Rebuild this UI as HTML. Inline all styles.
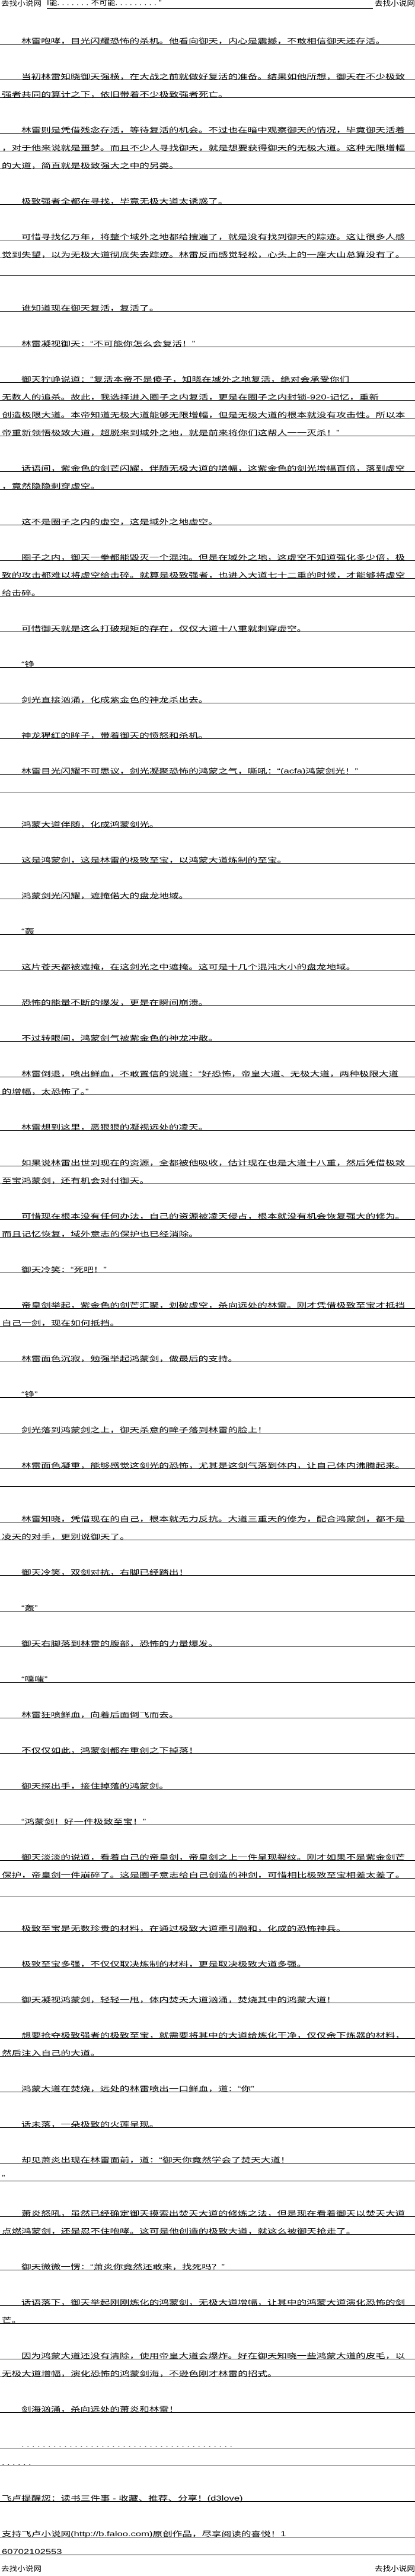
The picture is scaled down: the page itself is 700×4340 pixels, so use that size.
<!DOCTYPE html>
<html><head><meta charset="utf-8">
<style>
html,body{margin:0;padding:0;background:#fff;}
body{width:700px;height:4340px;position:relative;overflow:hidden;font-family:"Liberation Sans","Noto Sans CJK SC",sans-serif;color:#000;}
.l{position:absolute;left:0;width:700px;height:29px;border-bottom:1px solid #000;}
.l span{position:absolute;bottom:-2px;white-space:nowrap;font-size:16.6px;line-height:16.6px;transform:scaleY(0.7);transform-origin:left bottom;}
.i{left:36px;}
.c{left:3px;}
.h{position:absolute;white-space:nowrap;font-size:13.6px;line-height:14px;transform:scaleY(0.85);transform-origin:left top;}
.d{letter-spacing:4.4px;}
</style></head><body>
<div class="h" style="left:2px;top:0">去找小说网</div>
<div style="position:absolute;left:79px;top:0;width:550px;height:14px;border-bottom:1px solid #000;"><span class="h" style="left:0;top:-1px">I能<span class="d">.......</span>不可能<span class="d">.........</span>”</span></div>
<div class="h" style="left:632px;top:0">去找小说网</div>

<div class="l" style="top:45px"><span class="i">林雷咆哮，目光闪耀恐怖的杀机。他看向御天，内心是震撼，不敢相信御天还存活。</span></div>
<div class="l" style="top:105px"><span class="i">当初林雷知晓御天强横，在大战之前就做好复活的准备。结果如他所想，御天在不少极致</span></div>
<div class="l" style="top:135px"><span class="c">强者共同的算计之下，依旧带着不少极致强者死亡。</span></div>
<div class="l" style="top:195px"><span class="i">林雷则是凭借残念存活，等待复活的机会。不过也在暗中观察御天的情况，毕竟御天活着</span></div>
<div class="l" style="top:225px"><span class="c">，对于他来说就是噩梦。而且不少人寻找御天，就是想要获得御天的无极大道。这种无限增幅</span></div>
<div class="l" style="top:255px"><span class="c">的大道，简直就是极致强大之中的另类。</span></div>
<div class="l" style="top:315px"><span class="i">极致强者全都在寻找，毕竟无极大道太诱惑了。</span></div>
<div class="l" style="top:375px"><span class="i">可惜寻找亿万年，将整个域外之地都给搜遍了，就是没有找到御天的踪迹。这让很多人感</span></div>
<div class="l" style="top:405px"><span class="c">觉到失望，以为无极大道彻底失去踪迹。林雷反而感觉轻松，心头上的一座大山总算没有了。</span></div>
<div class="l" style="top:435px"></div>
<div class="l" style="top:495px"><span class="i">谁知道现在御天复活，复活了。</span></div>
<div class="l" style="top:555px"><span class="i">林雷凝视御天：“不可能<span class="d">........</span>你怎么会复活！”</span></div>
<div class="l" style="top:615px"><span class="i">御天狞峥说道：“复活<span class="d">.....</span>本帝不是傻子，知晓在域外之地复活，绝对会承受你们</span></div>
<div class="l" style="top:645px"><span class="c">无数人的追杀。故此，我选择进入圈子之内复活，更是在圈子之内封锁-920-记忆，重新</span></div>
<div class="l" style="top:675px"><span class="c">创造极限大道。本帝知道无极大道能够无限增幅，但是无极大道的根本就没有攻击性。所以本</span></div>
<div class="l" style="top:705px"><span class="c">帝重新领悟极致大道，超脱来到域外之地，就是前来将你们这帮人一一灭杀！”</span></div>
<div class="l" style="top:765px"><span class="i">话语间，紫金色的剑芒闪耀，伴随无极大道的增幅，这紫金色的剑光增幅百倍，落到虚空</span></div>
<div class="l" style="top:795px"><span class="c">，竟然隐隐刺穿虚空。</span></div>
<div class="l" style="top:855px"><span class="i">这不是圈子之内的虚空，这是域外之地虚空。</span></div>
<div class="l" style="top:915px"><span class="i">圈子之内，御天一拳都能毁灭一个混沌。但是在域外之地，这虚空不知道强化多少倍，极</span></div>
<div class="l" style="top:945px"><span class="c">致的攻击都难以将虚空给击碎。就算是极致强者，也进入大道七十二重的时候，才能够将虚空</span></div>
<div class="l" style="top:975px"><span class="c">给击碎。</span></div>
<div class="l" style="top:1035px"><span class="i">可惜御天就是这么打破规矩的存在，仅仅大道十八重就刺穿虚空。</span></div>
<div class="l" style="top:1095px"><span class="i">“铮<span class="d">...................</span></span></div>
<div class="l" style="top:1155px"><span class="i">剑光直接汹涌，化成紫金色的神龙杀出去。</span></div>
<div class="l" style="top:1215px"><span class="i">神龙猩红的眸子，带着御天的愤怒和杀机。</span></div>
<div class="l" style="top:1275px"><span class="i">林雷目光闪耀不可思议，剑光凝聚恐怖的鸿蒙之气，嘶吼：“(acfa)鸿蒙剑光！”</span></div>
<div class="l" style="top:1305px"></div>
<div class="l" style="top:1365px"><span class="i">鸿蒙大道伴随，化成鸿蒙剑光。</span></div>
<div class="l" style="top:1425px"><span class="i">这是鸿蒙剑，这是林雷的极致至宝，以鸿蒙大道炼制的至宝。</span></div>
<div class="l" style="top:1485px"><span class="i">鸿蒙剑光闪耀，遮掩偌大的盘龙地域。</span></div>
<div class="l" style="top:1545px"><span class="i">“轰<span class="d">..................</span></span></div>
<div class="l" style="top:1605px"><span class="i">这片苍天都被遮掩，在这剑光之中遮掩。这可是十几个混沌大小的盘龙地域。</span></div>
<div class="l" style="top:1665px"><span class="i">恐怖的能量不断的爆发，更是在瞬间崩溃。</span></div>
<div class="l" style="top:1725px"><span class="i">不过转眼间，鸿蒙剑气被紫金色的神龙冲散。</span></div>
<div class="l" style="top:1785px"><span class="i">林雷倒退，喷出鲜血，不敢置信的说道：“好恐怖，帝皇大道、无极大道，两种极限大道</span></div>
<div class="l" style="top:1815px"><span class="c">的增幅，太恐怖了。”</span></div>
<div class="l" style="top:1875px"><span class="i">林雷想到这里，恶狠狠的凝视远处的凌天。</span></div>
<div class="l" style="top:1935px"><span class="i">如果说林雷出世到现在的资源，全都被他吸收，估计现在也是大道十八重，然后凭借极致</span></div>
<div class="l" style="top:1965px"><span class="c">至宝鸿蒙剑，还有机会对付御天。</span></div>
<div class="l" style="top:2025px"><span class="i">可惜现在根本没有任何办法，自己的资源被凌天侵占，根本就没有机会恢复强大的修为。</span></div>
<div class="l" style="top:2055px"><span class="c">而且记忆恢复，域外意志的保护也已经消除。</span></div>
<div class="l" style="top:2115px"><span class="i">御天冷笑：“死吧！”</span></div>
<div class="l" style="top:2175px"><span class="i">帝皇剑举起，紫金色的剑芒汇聚，划破虚空，杀向远处的林雷。刚才凭借极致至宝才抵挡</span></div>
<div class="l" style="top:2205px"><span class="c">自己一剑，现在如何抵挡。</span></div>
<div class="l" style="top:2265px"><span class="i">林雷面色沉寂，勉强举起鸿蒙剑，做最后的支持。</span></div>
<div class="l" style="top:2325px"><span class="i">“铮<span class="d">.............</span>”</span></div>
<div class="l" style="top:2385px"><span class="i">剑光落到鸿蒙剑之上，御天杀意的眸子落到林雷的脸上！</span></div>
<div class="l" style="top:2445px"><span class="i">林雷面色凝重，能够感觉这剑光的恐怖，尤其是这剑气落到体内，让自己体内沸腾起来。</span></div>
<div class="l" style="top:2475px"></div>
<div class="l" style="top:2535px"><span class="i">林雷知晓，凭借现在的自己，根本就无力反抗。大道三重天的修为，配合鸿蒙剑，都不是</span></div>
<div class="l" style="top:2565px"><span class="c">凌天的对手，更别说御天了。</span></div>
<div class="l" style="top:2625px"><span class="i">御天冷笑，双剑对抗，右脚已经踏出！</span></div>
<div class="l" style="top:2685px"><span class="i">“轰<span class="d">..............</span>”</span></div>
<div class="l" style="top:2745px"><span class="i">御天右脚落到林雷的腹部，恐怖的力量爆发。</span></div>
<div class="l" style="top:2805px"><span class="i">“噗嗤<span class="d">............</span>”</span></div>
<div class="l" style="top:2865px"><span class="i">林雷狂喷鲜血，向着后面倒飞而去。</span></div>
<div class="l" style="top:2925px"><span class="i">不仅仅如此，鸿蒙剑都在重创之下掉落！</span></div>
<div class="l" style="top:2985px"><span class="i">御天探出手，接住掉落的鸿蒙剑。</span></div>
<div class="l" style="top:3045px"><span class="i">“鸿蒙剑！好一件极致至宝！”</span></div>
<div class="l" style="top:3105px"><span class="i">御天淡淡的说道，看着自己的帝皇剑，帝皇剑之上一件呈现裂纹。刚才如果不是紫金剑芒</span></div>
<div class="l" style="top:3135px"><span class="c">保护，帝皇剑一件崩碎了。这是圈子意志给自己创造的神剑，可惜相比极致至宝相差太差了。</span></div>
<div class="l" style="top:3165px"></div>
<div class="l" style="top:3225px"><span class="i">极致至宝是无数珍贵的材料，在通过极致大道牵引融和，化成的恐怖神兵。</span></div>
<div class="l" style="top:3285px"><span class="i">极致至宝多强，不仅仅取决炼制的材料，更是取决极致大道多强。</span></div>
<div class="l" style="top:3345px"><span class="i">御天凝视鸿蒙剑，轻轻一甩，体内焚天大道汹涌，焚烧其中的鸿蒙大道！</span></div>
<div class="l" style="top:3405px"><span class="i">想要抢夺极致强者的极致至宝，就需要将其中的大道给炼化干净，仅仅余下炼器的材料，</span></div>
<div class="l" style="top:3435px"><span class="c">然后注入自己的大道。</span></div>
<div class="l" style="top:3495px"><span class="i">鸿蒙大道在焚烧，远处的林雷喷出一口鲜血，道：“你<span class="d">..........</span>”</span></div>
<div class="l" style="top:3555px"><span class="i">话未落，一朵极致的火莲呈现。</span></div>
<div class="l" style="top:3615px"><span class="i">却见萧炎出现在林雷面前，道：“御天<span class="d">..........</span>你竟然学会了焚天大道！</span></div>
<div class="l" style="top:3645px"><span class="c">”</span></div>
<div class="l" style="top:3705px"><span class="i">萧炎怒吼，虽然已经确定御天摸索出焚天大道的修炼之法，但是现在看着御天以焚天大道</span></div>
<div class="l" style="top:3735px"><span class="c">点燃鸿蒙剑，还是忍不住咆哮。这可是他创造的极致大道，就这么被御天抢走了。</span></div>
<div class="l" style="top:3795px"><span class="i">御天微微一愣：“萧炎<span class="d">.....</span>你竟然还敢来，找死吗？”</span></div>
<div class="l" style="top:3855px"><span class="i">话语落下，御天举起刚刚炼化的鸿蒙剑，无极大道增幅，让其中的鸿蒙大道演化恐怖的剑</span></div>
<div class="l" style="top:3885px"><span class="c">芒。</span></div>
<div class="l" style="top:3945px"><span class="i">因为鸿蒙大道还没有清除，使用帝皇大道会爆炸。好在御天知晓一些鸿蒙大道的皮毛，以</span></div>
<div class="l" style="top:3975px"><span class="c">无极大道增幅，演化恐怖的鸿蒙剑海，不逊色刚才林雷的招式。</span></div>
<div class="l" style="top:4035px"><span class="i">剑海汹涌，杀向远处的萧炎和林雷！</span></div>
<div class="l" style="top:4095px"><span class="i d">........................................</span></div>
<div class="l" style="top:4125px"><span class="c d">......</span></div>
<div class="l" style="top:4185px"><span class="c">飞卢提醒您：读书三件事 - 收藏、推荐、分享！(d3love)</span></div>
<div class="l" style="top:4245px"><span class="c">支持飞卢小说网(http://b.faloo.com)原创作品，尽享阅读的喜悦！1</span></div>
<div class="l" style="top:4275px"><span class="c">60702102553</span></div>

<div class="h" style="left:2px;top:4322px">去找小说网</div>
<div class="h" style="left:632px;top:4322px">去找小说网</div>
</body></html>
